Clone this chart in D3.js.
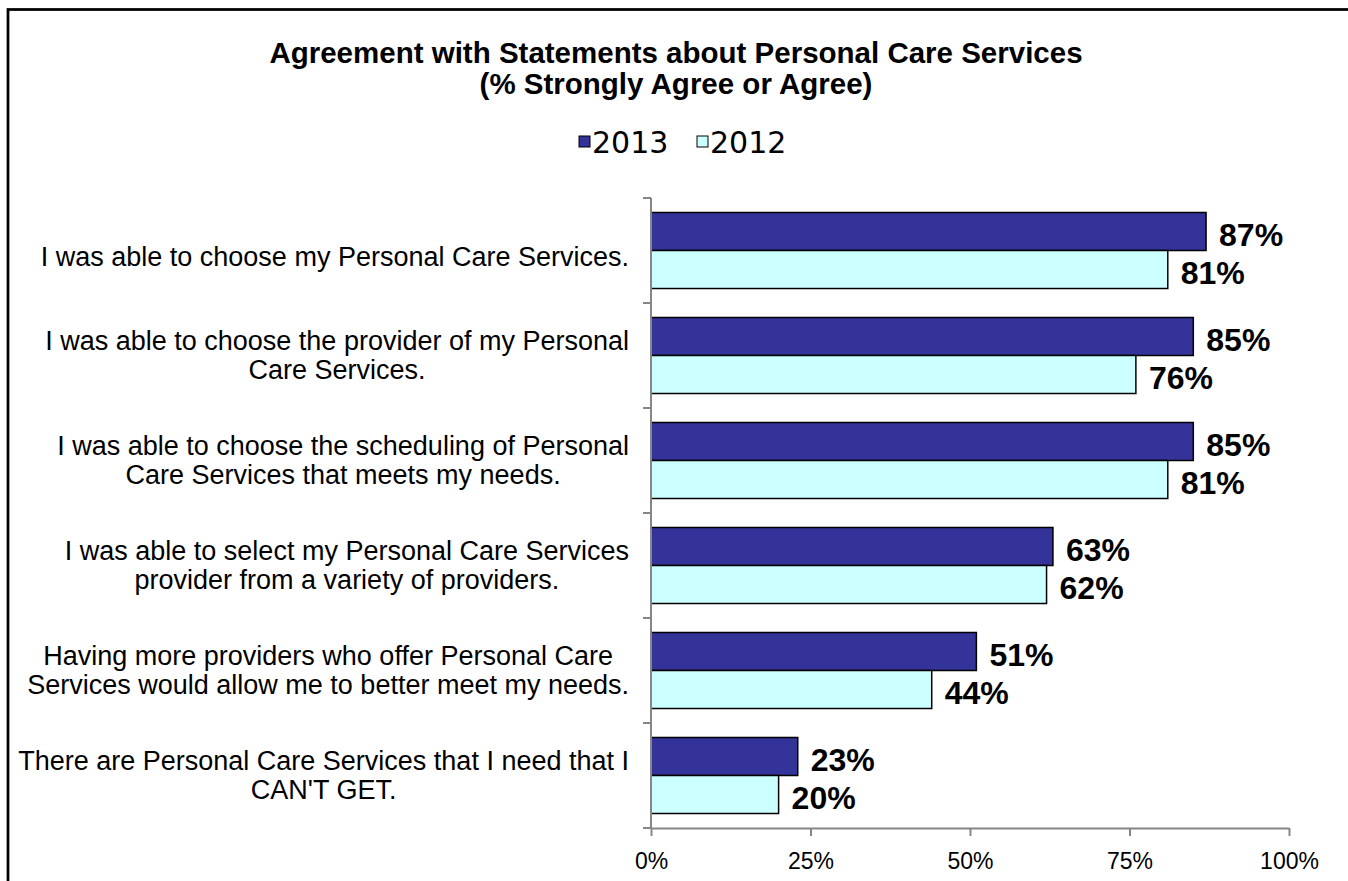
<!DOCTYPE html>
<html>
<head>
<meta charset="utf-8">
<script src="https://cdn.jsdelivr.net/npm/d3@7/dist/d3.min.js"></script>
<style>
  html, body { margin: 0; padding: 0; background: #fff; }
  svg { display: block; font-family: "Liberation Sans", Arial, sans-serif; }
</style>
</head>
<body>
<svg id="chart" width="1348" height="881"></svg>
<script>
// Statements (each entry is the list of lines as wrapped on the chart)
const statements = [
  ["I was able to choose my Personal Care Services."],
  ["I was able to choose the provider of my Personal", "Care Services."],
  ["I was able to choose the scheduling of Personal", "Care Services that meets my needs."],
  ["I was able to select my Personal Care Services", "provider from a variety of providers."],
  ["Having more providers who offer Personal Care", "Services would allow me to better meet my needs."],
  ["There are Personal Care Services that I need that I", "CAN'T GET."]
];
const seriesNames = ["2013", "2012"];
const values2013 = [87, 85, 85, 63, 51, 23];
const values2012 = [81, 76, 81, 62, 44, 20];
const xTicks = [0, 25, 50, 75, 100];
const titleLines = ["Agreement with Statements about Personal Care Services", "(% Strongly Agree or Agree)"];

const colors = { "2013": "#333399", "2012": "#CCFFFF" };
const seriesValues = { "2013": values2013, "2012": values2012 };

const svg = d3.select("#chart");

// Chart area frame (left and top edges visible)
svg.append("rect")
  .attr("x", 8).attr("y", 9.5)
  .attr("width", 1400).attr("height", 900)
  .attr("fill", "none").attr("stroke", "#000").attr("stroke-width", 2.75);

// Title
svg.append("g").selectAll("text").data(titleLines).join("text")
  .attr("x", 676).attr("y", (d, i) => 63 + i * 31)
  .attr("text-anchor", "middle")
  .attr("font-size", 29.5).attr("font-weight", "bold").attr("fill", "#000")
  .text(d => d);

// Legend
const legend = svg.append("g");
const legendItems = [{ name: "2013", x: 579 }, { name: "2012", x: 697 }];
legendItems.forEach(it => {
  legend.append("rect")
    .attr("x", it.x).attr("y", 136).attr("width", 11).attr("height", 11)
    .attr("fill", colors[it.name]).attr("stroke", "#000").attr("stroke-width", 1);
  legend.append("text")
    .attr("x", it.x + 13).attr("y", 153)
    .attr("font-family", "DejaVu Sans, sans-serif")
    .attr("font-size", 30).attr("fill", "#000")
    .text(it.name);
});

// Scales
const x = d3.scaleLinear().domain([0, 100]).range([651, 1289]);
const y = d3.scaleBand()
  .domain(d3.range(statements.length))
  .range([198, 828])
  .paddingInner(0.276).paddingOuter(0.138);
const ySeries = d3.scaleBand().domain(seriesNames).range([0, y.bandwidth()]);
const step = y.step();

// Bars
const groups = svg.append("g").selectAll("g").data(statements.map((s, i) => i)).join("g")
  .attr("transform", i => `translate(0,${y(i)})`);

groups.selectAll("rect")
  .data(i => seriesNames.map(n => ({ name: n, value: seriesValues[n][i] })))
  .join("rect")
  .attr("x", x(0))
  .attr("y", d => ySeries(d.name))
  .attr("width", d => x(d.value) - x(0))
  .attr("height", ySeries.bandwidth())
  .attr("fill", d => colors[d.name])
  .attr("stroke", "#000").attr("stroke-width", 1.5);

groups.selectAll("text.val")
  .data(i => seriesNames.map(n => ({ name: n, value: seriesValues[n][i] })))
  .join("text")
  .attr("class", "val")
  .attr("x", d => x(d.value) + 13)
  .attr("y", d => ySeries(d.name) + ySeries.bandwidth() / 2 + 15)
  .attr("font-size", 32).attr("font-weight", "bold").attr("fill", "#000")
  .text(d => d.value + "%");

// Vertical category axis with ticks at band boundaries
const axisColor = "#868686";
svg.append("line")
  .attr("x1", x(0)).attr("x2", x(0)).attr("y1", 198).attr("y2", 828)
  .attr("stroke", axisColor).attr("stroke-width", 2);
svg.append("g").selectAll("line")
  .data(d3.range(statements.length + 1))
  .join("line")
  .attr("x1", x(0) - 8).attr("x2", x(0))
  .attr("y1", i => 198 + i * step).attr("y2", i => 198 + i * step)
  .attr("stroke", axisColor).attr("stroke-width", 2);

// Horizontal value axis
const xAxis = d3.axisBottom(x)
  .tickValues(xTicks)
  .tickSize(8)
  .tickSizeOuter(0)
  .tickFormat(d => d + "%");
const gx = svg.append("g").attr("transform", "translate(0,828)").call(xAxis);
gx.select(".domain").attr("stroke", axisColor).attr("stroke-width", 2);
gx.selectAll(".tick line").attr("stroke", axisColor).attr("stroke-width", 2);
gx.selectAll(".tick text")
  .attr("font-family", "Liberation Sans, Arial, sans-serif")
  .attr("font-size", 23).attr("fill", "#000").attr("dy", 0).attr("y", 41);

// Category labels: each block centred on itself, right edge near the axis
const labelRight = 629;
const lineHeight = 29;
statements.forEach((lines, i) => {
  const cy = y(i) + y.bandwidth() / 2 + (lines.length === 1 ? 6 : 0);
  const t = svg.append("text")
    .attr("font-size", 27).attr("fill", "#000").attr("text-anchor", "middle");
  const spans = lines.map((ln, k) =>
    t.append("tspan")
      .attr("y", cy + 9 + (k - (lines.length - 1) / 2) * lineHeight)
      .text(ln));
  const maxW = d3.max(spans, s => s.node().getComputedTextLength());
  spans.forEach(s => s.attr("x", labelRight - maxW / 2));
});
</script>
</body>
</html>
